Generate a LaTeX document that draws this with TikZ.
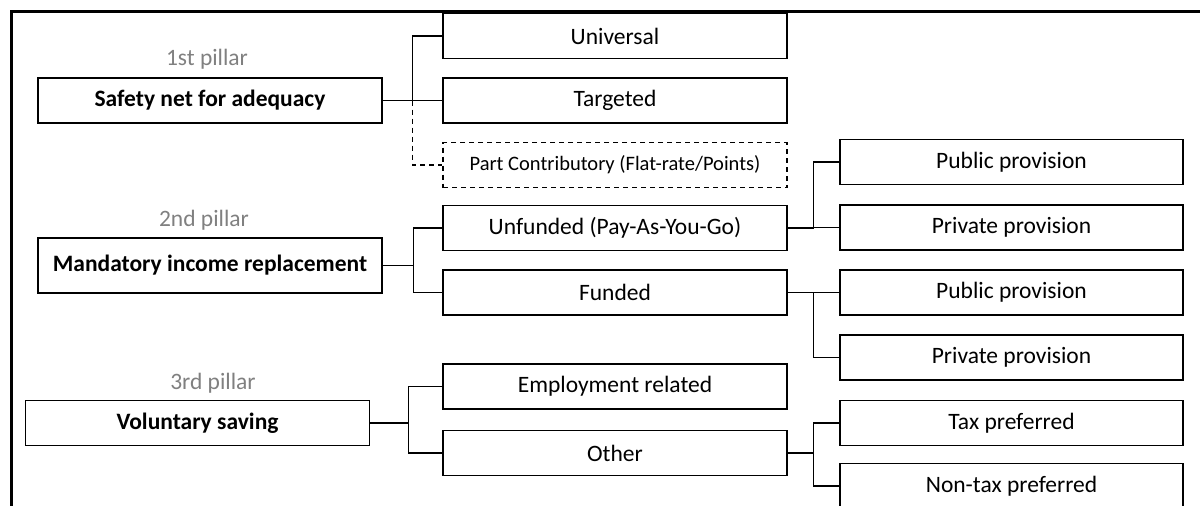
\documentclass[tikz,border=0pt]{standalone}
\usepackage{fontspec}
\setmainfont{Carlito}
\usetikzlibrary{positioning}

\begin{document}
\begin{tikzpicture}[x=1pt,y=-1pt,
    box/.style={draw,line width=1.3pt,minimum width=344pt,minimum height=45pt,inner sep=0pt,font=\fontsize{23.5}{26}\selectfont},
    head/.style={box,font=\fontsize{23.5}{26}\selectfont\bfseries},
    pillar/.style={text=black!50,inner sep=0pt,font=\fontsize{23.5}{26}\selectfont},
    link/.style={line width=1.2pt},
    dashline/.style={dash pattern=on 5pt off 4pt}]
    \useasboundingbox (0,0) rectangle (1200,506);
    \clip (0,0) rectangle (1200,506);
    \draw[line width=3pt] (11,510) -- (11,11) -- (1205,11);

    % pillars
    \node[pillar] (p1) at (207,59) {1st pillar};
    \node[head] (safety) at (210,100.5) {Safety net for adequacy};
    \node[pillar] (p2) at (204,220) {2nd pillar};
    \node[head,minimum height=55pt] (mandatory) at (210,265.5) {Mandatory income replacement};
    \node[pillar] (p3) at (213,383) {3rd pillar};
    \node[head] (voluntary) at (197.5,423) {Voluntary saving};

    % second column
    \node[box] (universal) at (615,36) {Universal};
    \node[box] (targeted) at (615,100.5) {Targeted};
    \node[box,dashline,line width=1.1pt,font=\fontsize{20.5}{24}\selectfont] (partc) at (615,165) {Part Contributory (Flat-rate/Points)};
    \node[box] (unfunded) at (615,228) {Unfunded (Pay-As-You-Go)};
    \node[box] (funded) at (615,292.5) {Funded};
    \node[box] (employment) at (615,386.5) {Employment related};
    \node[box] (other) at (615,453) {Other};

    % third column
    \node[box,minimum width=343pt] (public1) at (1011.5,162) {Public provision};
    \node[box,minimum width=343pt] (private1) at (1011.5,227.5) {Private provision};
    \node[box,minimum width=343pt] (public2) at (1011.5,292.5) {Public provision};
    \node[box,minimum width=343pt] (private2) at (1011.5,357.5) {Private provision};
    \node[box,minimum width=343pt] (tax) at (1011.5,423) {Tax preferred};
    \node[box,minimum width=343pt] (nontax) at (1011.5,486) {Non-tax preferred};

    % connectors
    \draw[link] (safety.east) -- ++(30,0) coordinate (s1) |- (universal.west);
    \draw[link] (s1) |- (targeted.west);
    \draw[link,dashline] (s1) |- (partc.west);
    \draw[link] (mandatory.east) -- ++(31,0) coordinate (m1) |- (unfunded.west);
    \draw[link] (m1) |- (funded.west);
    \draw[link] (voluntary.east) -- ++(38,0) coordinate (v1) |- (employment.west);
    \draw[link] (v1) |- (other.west);
    \draw[link] (unfunded.east) -- ++(26,0) coordinate (u1) |- (public1.west);
    \draw[link] (u1) |- (private1.west);
    \draw[link] (funded.east) -- ++(26,0) coordinate (f1) |- (public2.west);
    \draw[link] (f1) |- (private2.west);
    \draw[link] (other.east) -- ++(26,0) coordinate (o1) |- (tax.west);
    \draw[link] (o1) |- (nontax.west);
\end{tikzpicture}
\end{document}
